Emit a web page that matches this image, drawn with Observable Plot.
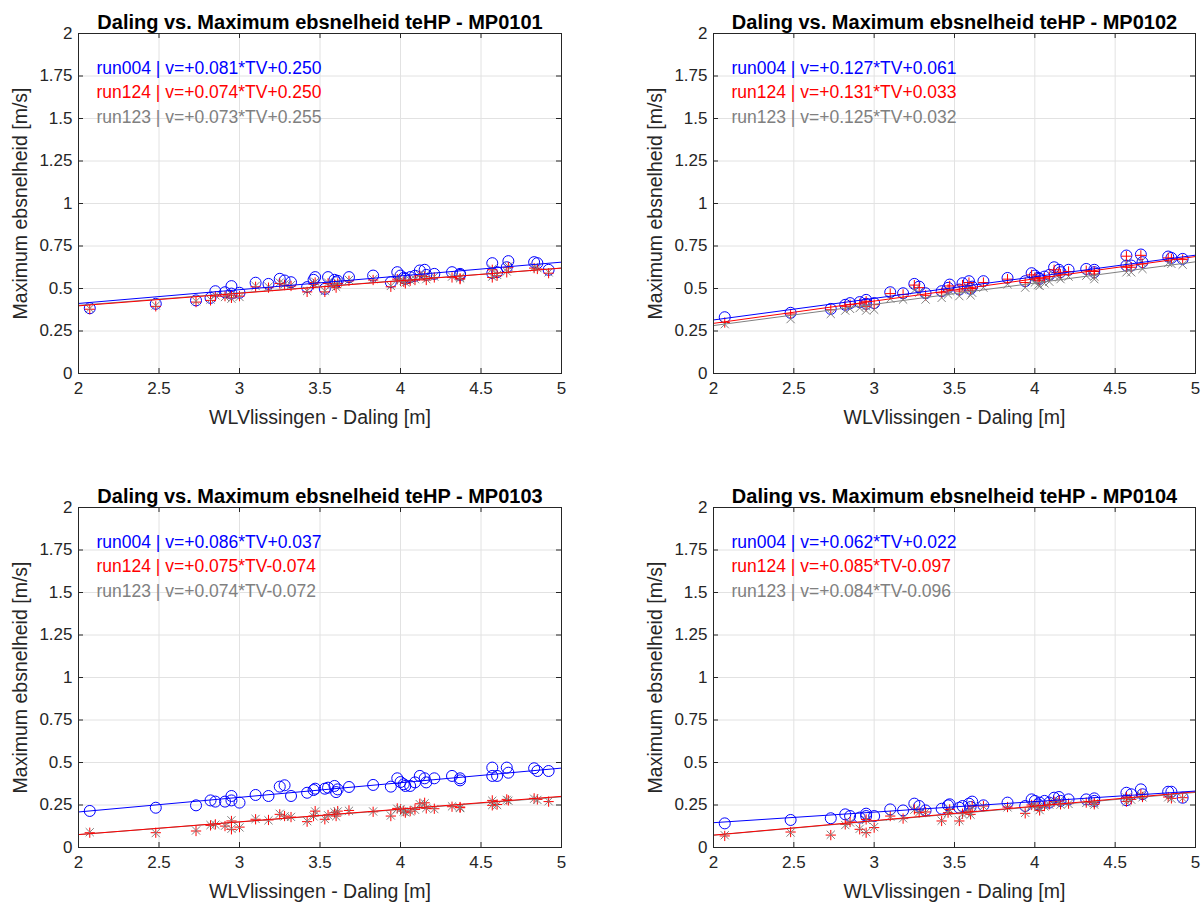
<!DOCTYPE html>
<html>
<head>
<meta charset="utf-8">
<script src="https://cdn.jsdelivr.net/npm/d3@7"></script>
<script src="https://cdn.jsdelivr.net/npm/@observablehq/plot@0.6"></script>
<style>
  html, body { margin: 0; padding: 0; background: #fff; }
  #root { position: relative; width: 1203px; height: 903px; background: #fff; overflow: hidden; }
  .panel { position: absolute; }
</style>
</head>
<body>
<div id="root"></div>
<script>
// ---------- data ----------
const stations = ["MP0101", "MP0102", "MP0103", "MP0104"];
const runs = ["run004", "run124", "run123"];
const xTicks = [2, 2.5, 3, 3.5, 4, 4.5, 5];
const yTicks = [0, 0.25, 0.5, 0.75, 1, 1.25, 1.5, 1.75, 2];
const xLabel = "WLVlissingen - Daling [m]";
const yLabel = "Maximum ebsnelheid [m/s]";

// Daling (TV) per event, shared by all stations
const daling = [2.07, 2.48, 2.73, 2.82, 2.85, 2.91, 2.95, 2.95, 3.00, 3.10, 3.18, 3.25, 3.28, 3.32, 3.42, 3.46, 3.47, 3.53, 3.55, 3.59, 3.60, 3.61, 3.68, 3.83, 3.94, 3.98, 4.00, 4.02, 4.03, 4.06, 4.09, 4.12, 4.15, 4.16, 4.21, 4.32, 4.37, 4.37, 4.57, 4.57, 4.60, 4.66, 4.67, 4.83, 4.85, 4.92];

// MP0101
const mp0101_run004 = [.384, .41, .43, .445, .484, .478, .514, .47, .475, .534, .527, .557, .547, .537, .508, .551, .567, .498, .567, .551, .537, .545, .567, .576, .537, .596, .576, .563, .557, .567, .575, .606, .61, .58, .586, .596, .586, .58, .649, .59, .596, .625, .661, .655, .649, .61];
const mp0101_run124 = [.378, .395, .42, .43, .455, .455, .46, .445, .455, .51, .505, .53, .52, .515, .48, .525, .535, .48, .53, .52, .505, .53, .545, .55, .51, .555, .545, .54, .53, .545, .55, .575, .57, .55, .565, .565, .56, .555, .61, .565, .575, .595, .625, .62, .615, .59];
const mp0101_run123 = [.382, .40, .425, .435, .46, .45, .465, .44, .45, .515, .51, .535, .525, .52, .485, .53, .54, .485, .535, .525, .51, .535, .55, .555, .515, .56, .55, .545, .535, .55, .555, .58, .575, .555, .57, .57, .565, .56, .615, .57, .58, .60, .63, .625, .62, .595];
// MP0102
const mp0102_run004 = [.331, .357, .38, .404, .414, .42, .433, .41, .414, .478, .472, .527, .511, .472, .484, .504, .523, .494, .531, .543, .498, .511, .543, .562, .543, .59, .576, .562, .557, .57, .58, .625, .61, .596, .61, .615, .61, .596, .694, .635, .635, .70, .655, .688, .68, .674];
const mp0102_run124 = [.30, .35, .375, .395, .405, .41, .425, .395, .405, .47, .465, .52, .505, .46, .475, .495, .515, .485, .52, .535, .49, .50, .535, .555, .535, .58, .565, .55, .545, .56, .57, .61, .595, .585, .60, .605, .60, .585, .69, .625, .625, .695, .645, .68, .675, .67];
const mp0102_run123 = [.29, .32, .35, .37, .38, .385, .395, .37, .375, .44, .435, .49, .475, .435, .445, .465, .485, .455, .49, .505, .46, .475, .505, .525, .505, .55, .535, .52, .515, .53, .54, .575, .565, .555, .57, .575, .57, .555, .65, .595, .595, .655, .615, .65, .645, .64];
// MP0103
const mp0103_run004 = [.215, .234, .248, .277, .27, .27, .303, .277, .264, .309, .303, .358, .366, .303, .322, .338, .346, .346, .352, .362, .326, .342, .356, .368, .358, .407, .385, .372, .362, .362, .383, .421, .407, .383, .407, .421, .407, .395, .47, .421, .421, .47, .44, .466, .45, .45];
const mp0103_run124 = [.087, .087, .097, .13, .136, .126, .156, .107, .12, .166, .162, .195, .185, .179, .152, .185, .214, .166, .191, .205, .185, .214, .218, .21, .185, .23, .224, .214, .205, .214, .224, .257, .263, .23, .228, .24, .234, .238, .277, .248, .253, .283, .277, .289, .283, .27];
const mp0103_run123 = [.09, .085, .10, .132, .134, .128, .16, .11, .118, .168, .16, .198, .183, .18, .155, .183, .212, .168, .19, .207, .183, .212, .216, .212, .188, .228, .226, .212, .207, .212, .222, .255, .26, .232, .226, .242, .232, .236, .275, .25, .25, .28, .275, .287, .28, .272];
// MP0104
const mp0104_run004 = [.142, .162, .172, .195, .185, .176, .199, .185, .185, .224, .218, .258, .244, .218, .228, .248, .254, .234, .244, .258, .238, .27, .248, .264, .244, .283, .274, .254, .264, .274, .264, .293, .297, .274, .283, .283, .289, .274, .322, .278, .313, .342, .313, .328, .328, .293];
const mp0104_run124 = [.068, .091, .073, .136, .15, .107, .165, .087, .117, .185, .17, .224, .205, .209, .156, .205, .224, .156, .199, .213, .195, .244, .244, .238, .201, .25, .248, .238, .218, .244, .254, .27, .274, .254, .258, .264, .264, .254, .297, .27, .283, .313, .297, .297, .289, .293];
const mp0104_run123 = [.072, .088, .075, .132, .147, .11, .162, .09, .12, .182, .172, .222, .207, .206, .158, .203, .222, .159, .197, .211, .193, .241, .242, .236, .204, .248, .246, .236, .22, .242, .252, .268, .272, .252, .256, .262, .262, .252, .294, .268, .281, .31, .295, .295, .287, .29];

// fitted coefficients per station: [slope, intercept] for run004, run124, run123
const fit0101 = [[0.081, 0.250], [0.074, 0.250], [0.073, 0.255]];
const fit0102 = [[0.127, 0.061], [0.131, 0.033], [0.125, 0.032]];
const fit0103 = [[0.086, 0.037], [0.075, -0.074], [0.074, -0.072]];
const fit0104 = [[0.062, 0.022], [0.085, -0.097], [0.084, -0.096]];

// ---------- build ----------
const seriesByStation = [
  [mp0101_run004, mp0101_run124, mp0101_run123],
  [mp0102_run004, mp0102_run124, mp0102_run123],
  [mp0103_run004, mp0103_run124, mp0103_run123],
  [mp0104_run004, mp0104_run124, mp0104_run123]
];
const fits = [fit0101, fit0102, fit0103, fit0104];

const colors = ["#0000ff", "#ff0000", "#808080"];
const symbols = ["circle", "plus", "times"];
const radii = [5.5, 3.4, 3.8];
const FONT = "'Liberation Sans', Arial, Helvetica, sans-serif";
const AX = "#262626";

const sgn = v => (v < 0 ? "-" : "+") + Math.abs(v).toFixed(3);

const positions = [
  {left: 0, top: 0, mL: 78, mR: 39},
  {left: 602, top: 0, mL: 111, mR: 8},
  {left: 0, top: 474, mL: 78, mR: 39},
  {left: 602, top: 474, mL: 111, mR: 8}
];
const legendOffsets = [35, 59, 84];

const root = document.getElementById("root");
const xDom = [xTicks[0], xTicks[xTicks.length - 1]];
const yDom = [yTicks[0], yTicks[yTicks.length - 1]];

stations.forEach((st, i) => {
  const pos = positions[i];
  const W = i % 2 ? 601 : 600, H = 450;
  const plotW = W - pos.mL - pos.mR, plotH = H - 33 - 77;
  const tx = (xDom[1] - xDom[0]) * 5 / plotW;
  const ty = (yDom[1] - yDom[0]) * 5 / plotH;

  const pts = [];
  seriesByStation[i].forEach((vals, k) => vals.forEach((v, j) => pts.push({x: daling[j], y: v, run: k})));
  const lines = [];
  fits[i].forEach(([a, b], k) => xDom.forEach(x => lines.push({x, y: a * x + b, run: k})));
  const legend = runs.map((r, k) => ({t: `${r} | v=${sgn(fits[i][k][0])}*TV${sgn(fits[i][k][1])}`, k}));

  const marks = [
    Plot.ruleX(xTicks, {stroke: "#e2e2e2", strokeWidth: 1}),
    Plot.ruleY(yTicks, {stroke: "#e2e2e2", strokeWidth: 1}),
    // inward tick marks on all four sides
    Plot.ruleX(xTicks, {x: d => d, y1: yDom[0], y2: yDom[0] + ty, stroke: AX}),
    Plot.ruleX(xTicks, {x: d => d, y1: yDom[1], y2: yDom[1] - ty, stroke: AX}),
    Plot.ruleY(yTicks, {y: d => d, x1: xDom[0], x2: xDom[0] + tx, stroke: AX}),
    Plot.ruleY(yTicks, {y: d => d, x1: xDom[1], x2: xDom[1] - tx, stroke: AX}),
    Plot.axisX(xTicks, {tickSize: 0, tickPadding: 8, tickFormat: d => `${d}`, fill: AX, fontSize: 17, label: null}),
    Plot.axisY(yTicks, {tickSize: 0, tickPadding: 6, tickFormat: d => `${d}`, fill: AX, fontSize: 17, label: null}),
  ];
  [0, 1, 2].forEach(k => {
    marks.push(Plot.dot(pts.filter(d => d.run === k), {x: "x", y: "y", symbol: () => symbols[k], r: radii[k], stroke: colors[k], fill: "none", strokeWidth: 1}));
  });
  [2, 1, 0].forEach(k => {
    marks.push(Plot.line(lines.filter(d => d.run === k), {x: "x", y: "y", stroke: colors[k], strokeWidth: 1, clip: true}));
  });
  legend.forEach((d, k) => marks.push(
    Plot.text([d], {text: "t", frameAnchor: "top-left", lineAnchor: "middle", dx: 18, dy: legendOffsets[k], fill: colors[k], fontSize: 17.5, textAnchor: "start"})
  ));
  marks.push(
    Plot.frame({stroke: AX, strokeWidth: 1}),
    Plot.text([`Daling vs. Maximum ebsnelheid teHP - ${st}`], {frameAnchor: "top", lineAnchor: "middle", dy: -11, fontWeight: "bold", fontSize: 20, fill: "#000"}),
    Plot.text([xLabel], {frameAnchor: "bottom", lineAnchor: "middle", dy: 44, fontSize: 19.5, fill: AX}),
    Plot.text([yLabel], {frameAnchor: "left", lineAnchor: "middle", textAnchor: "middle", dx: -58, rotate: -90, fontSize: 19.5, fill: AX})
  );

  const chart = Plot.plot({
    width: W, height: H,
    marginLeft: pos.mL, marginRight: pos.mR, marginTop: 33, marginBottom: 77,
    style: {fontFamily: FONT, background: "transparent", color: AX, overflow: "visible"},
    x: {domain: xDom, ticks: xTicks},
    y: {domain: yDom, ticks: yTicks},
    symbol: {type: "identity"},
    marks
  });
  const div = document.createElement("div");
  div.className = "panel";
  div.style.left = pos.left + "px";
  div.style.top = pos.top + "px";
  div.appendChild(chart);
  root.appendChild(div);
});
</script>
</body>
</html>
